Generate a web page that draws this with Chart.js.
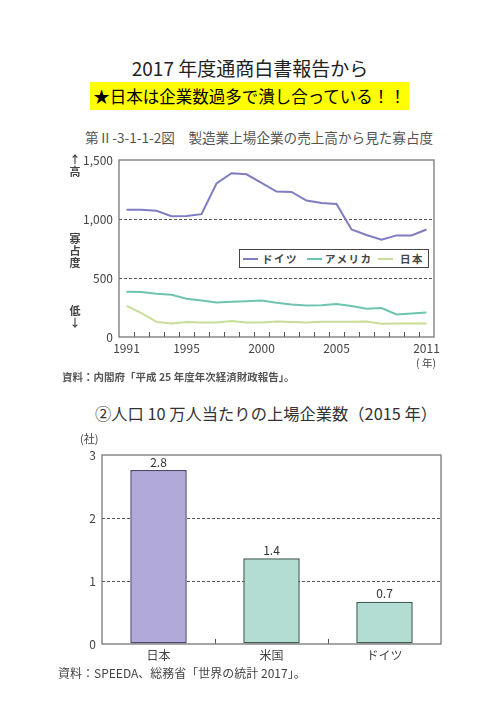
<!DOCTYPE html>
<html lang="ja">
<head>
<meta charset="utf-8">
<script src="https://cdn.jsdelivr.net/npm/chart.js@4.4.0/dist/chart.umd.min.js"></script>
<style>
html, body { margin: 0; padding: 0; background: #fff; }
body { width: 500px; height: 707px; position: relative; overflow: hidden;
       font-family: "Noto Sans CJK JP", "Noto Sans", sans-serif; }
.abs { position: absolute; white-space: nowrap; }
#midashi { left: 0; width: 500px; top: 55px; text-align: center; font-size: 19px; line-height: 26px; color: #222; }
#catch { left: 90px; top: 82px; width: 319px; height: 28px; background: #ffff00; font-size: 16.5px;
         line-height: 28px; text-align: center; color: #000; }
#zu1 { left: 85px; top: 127px; font-size: 13.6px; color: #555; }
#shiryo1 { left: 62px; top: 369px; font-size: 10.5px; font-weight: bold; color: #555; }
#zu2 { left: 0; width: 532px; top: 401px; text-align: center; font-size: 16.3px; color: #333; }
#sha { left: 80px; top: 430px; font-size: 11px; color: #444; }
#shiryo2 { left: 58px; top: 664px; font-size: 12px; color: #444; }
.tate { font-size: 11px; font-weight: bold; color: #444; line-height: 12px; text-align: center; width: 14px; left: 68px; }
#nen { left: 416px; top: 355px; font-size: 10.5px; color: #444; }
#hanrei { left: 239px; top: 249px; width: 188px; height: 17px; border: 1.5px solid #444; background: #fff;
          font-size: 10.5px; font-weight: bold; color: #444; line-height: 17px; }
#hanrei span { position: absolute; }
#hanrei span.sen { width: 15px; height: 2px; top: 8px; }
#hanrei span.mei { top: 0; letter-spacing: 1.5px; }
canvas { position: absolute; left: 0; }
</style>
</head>
<body>
<div class="abs" id="midashi">2017 年度通商白書報告から</div>
<div class="abs" id="catch">★日本は企業数過多で潰し合っている！！</div>
<div class="abs" id="zu1">第Ⅱ-3-1-1-2図　製造業上場企業の売上高から見た寡占度</div>

<canvas id="kasenChart" width="500" height="230" style="top:145px"></canvas>
<div class="abs tate" style="top:153px">↑<br>高</div>
<div class="abs tate" style="top:232px">寡<br>占<br>度</div>
<div class="abs tate" style="top:304px">低<br>↓</div>
<div class="abs" id="nen">( 年)</div>
<div class="abs" id="hanrei"></div>
<div class="abs" id="shiryo1">資料：内閣府「平成 25 年度年次経済財政報告」。</div>

<div class="abs" id="zu2">②人口 10 万人当たりの上場企業数（2015 年）</div>
<div class="abs" id="sha">(社)</div>
<canvas id="kigyoChart" width="500" height="230" style="top:440px"></canvas>
<div class="abs" id="shiryo2">資料：SPEEDA、総務省「世界の統計 2017」。</div>

<script>
// 寡占度（売上高から見た）のデータ
var nendo = ['1991', '1992', '1993', '1994', '1995', '1996', '1997', '1998', '1999', '2000',
             '2001', '2002', '2003', '2004', '2005', '2006', '2007', '2008', '2009', '2010', '2011'];
var doitsu = [1078, 1078, 1069, 1023, 1026, 1041, 1301, 1388, 1379, 1307,
              1232, 1229, 1156, 1136, 1128, 911, 865, 824, 861, 861, 911];
var amerika = [384, 382, 367, 358, 324, 310, 292, 298, 304, 310,
               290, 275, 266, 269, 280, 263, 240, 246, 191, 200, 208];
var nihon = [263, 202, 128, 115, 128, 122, 122, 136, 122, 122,
             132, 128, 122, 130, 130, 130, 132, 113, 115, 115, 115];
var nenLabels = ['1991', '1995', '2000', '2005', '2011'];
var kasenTicks = [0, 500, 1000, 1500];

// 人口10万人当たりの上場企業数（2015年）
var kuni = ['日本', '米国', 'ドイツ'];
var jojoSu = [2.76, 1.36, 0.67];
var shaTicks = [0, 1, 2, 3];

var FONT = '"Noto Sans CJK JP", "Noto Sans", sans-serif';
var iro = { doitsu: '#7f7dc2', amerika: '#6fc4b1', nihon: '#c8de98' };

// 凡例（HTML）: [名前, 色, 線の左端, 文字の左端]
var hanrei = document.getElementById('hanrei');
[['ドイツ', iro.doitsu, 3, 22], ['アメリカ', iro.amerika, 67, 85], ['日本', iro.nihon, 138, 160]].forEach(function (h) {
    hanrei.innerHTML += '<span class="sen" style="background:' + h[1] + ';left:' + h[2] + 'px"></span>' +
                        '<span class="mei" style="left:' + h[3] + 'px">' + h[0] + '</span>';
});

// 枠線と内向きの目盛りを描くプラグイン
function wakuPlugin(id) {
    return {
        id: id,
        afterDatasetsDraw: function (chart) {
            var a = chart.chartArea, c = chart.ctx, sx = chart.scales.x;
            c.save();
            c.strokeStyle = '#555';
            c.lineWidth = 1;
            for (var i = 0; i < sx.ticks.length - 1; i++) {
                var x = Math.round((sx.getPixelForValue(i) + sx.getPixelForValue(i + 1)) / 2) + 0.5;
                c.beginPath();
                c.moveTo(x, a.bottom);
                c.lineTo(x, a.bottom - 5);
                c.stroke();
            }
            c.strokeStyle = '#777';
            c.lineWidth = 1.3;
            c.strokeRect(a.left, a.top, a.right - a.left, a.bottom - a.top);
            c.restore();
        }
    };
}

// 棒の上の数値
var suuchiPlugin = {
    id: 'suuchi',
    afterDatasetsDraw: function (chart) {
        var c = chart.ctx, meta = chart.getDatasetMeta(0);
        c.save();
        c.font = '12px ' + FONT;
        c.fillStyle = '#333';
        c.textAlign = 'center';
        c.textBaseline = 'bottom';
        meta.data.forEach(function (bar, i) {
            c.fillText(jojoSu[i].toFixed(1), bar.x, bar.y - 2);
        });
        c.restore();
    }
};

function senGrid(vals) {
    return function (ctx) {
        return vals.indexOf(ctx.tick.value) >= 0 ? '#555' : 'rgba(0,0,0,0)';
    };
}

// 折れ線グラフ
var kasenChart = new Chart(document.getElementById('kasenChart').getContext('2d'), {
    type: 'line',
    data: {
        labels: nendo,
        datasets: [
            { label: 'ドイツ', data: doitsu, borderColor: iro.doitsu },
            { label: 'アメリカ', data: amerika, borderColor: iro.amerika },
            { label: '日本', data: nihon, borderColor: iro.nihon }
        ]
    },
    options: {
        responsive: false,
        animation: false,
        layout: { padding: { top: 15, right: 66, left: 0, bottom: 0 } },
        elements: { point: { radius: 0 }, line: { borderWidth: 2, tension: 0 } },
        plugins: { legend: { display: false }, tooltip: { enabled: false } },
        scales: {
            x: {
                type: 'category',
                offset: true,
                afterFit: function (s) { s.height = 38; },
                grid: { display: false, drawTicks: false },
                border: { display: false },
                ticks: {
                    autoSkip: false, maxRotation: 0, padding: 4,
                    color: '#444', font: { family: FONT, size: 12 },
                    callback: function (v) {
                        var l = this.getLabelForValue(v);
                        return nenLabels.indexOf(l) >= 0 ? l : '';
                    }
                }
            },
            y: {
                min: 0, max: 1500,
                afterFit: function (s) { s.width = 119; },
                afterBuildTicks: function (s) { s.ticks = kasenTicks.map(function (v) { return { value: v }; }); },
                grid: { color: senGrid([500, 1000]), lineWidth: 1, drawTicks: false },
                border: { display: false, dash: [3, 2] },
                ticks: {
                    padding: 6, color: '#444', font: { family: FONT, size: 12 },
                    callback: function (v) { return v.toLocaleString('en-US'); }
                }
            }
        }
    },
    plugins: [wakuPlugin('waku1')]
});

// 棒グラフ
var kigyoChart = new Chart(document.getElementById('kigyoChart').getContext('2d'), {
    type: 'bar',
    data: {
        labels: kuni,
        datasets: [{
            data: jojoSu,
            backgroundColor: ['#b1a9d7', '#b3ddd3', '#b3ddd3'],
            borderColor: ['#4b4870', '#3e5d57', '#3e5d57'],
            borderWidth: 1.5,
            borderSkipped: false,
            barPercentage: 0.5,
            categoryPercentage: 1.0
        }]
    },
    options: {
        responsive: false,
        animation: false,
        layout: { padding: { top: 15, right: 59, left: 0, bottom: 0 } },
        plugins: { legend: { display: false }, tooltip: { enabled: false } },
        scales: {
            x: {
                afterFit: function (s) { s.height = 26; },
                grid: { display: false, drawTicks: false },
                border: { display: false },
                ticks: { padding: 4, color: '#444', font: { family: FONT, size: 12 } }
            },
            y: {
                min: 0, max: 3,
                afterFit: function (s) { s.width = 102; },
                afterBuildTicks: function (s) { s.ticks = shaTicks.map(function (v) { return { value: v }; }); },
                grid: { color: senGrid([1, 2]), lineWidth: 1, drawTicks: false },
                border: { display: false, dash: [3, 2] },
                ticks: { padding: 6, color: '#444', font: { family: FONT, size: 12 } }
            }
        }
    },
    plugins: [wakuPlugin('waku2'), suuchiPlugin]
});
</script>
</body>
</html>
